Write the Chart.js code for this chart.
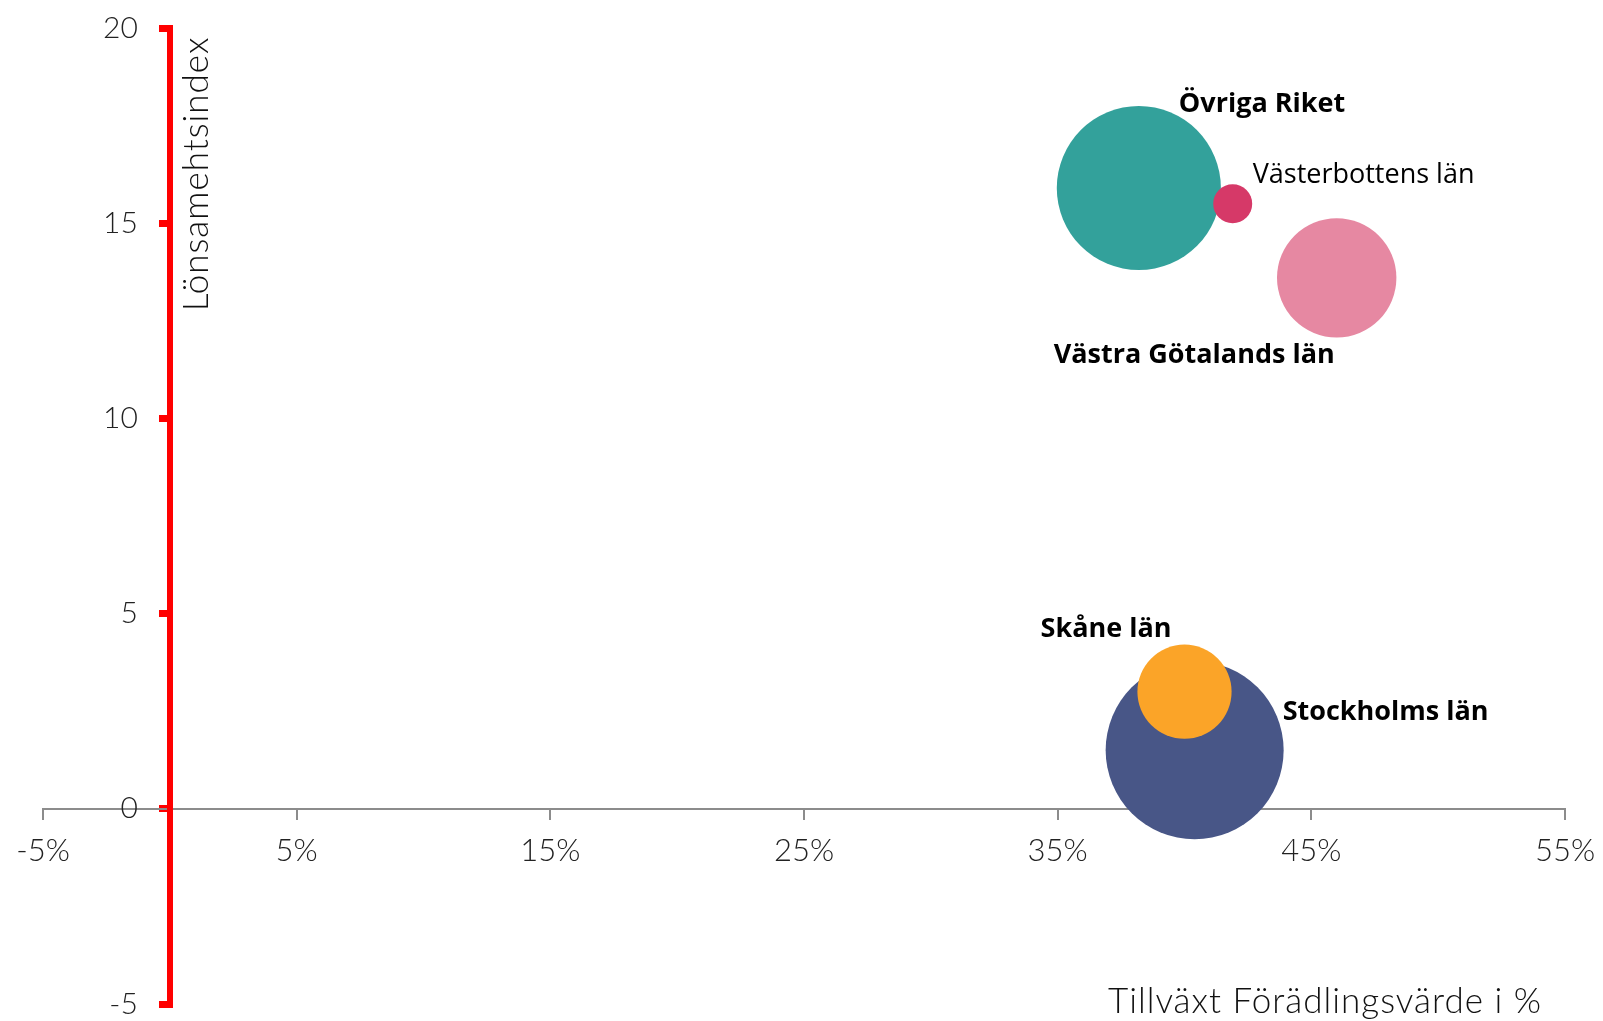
<!DOCTYPE html>
<html lang="sv">
<head>
<meta charset="utf-8">
<title>Lönsamhetsindex och tillväxt i förädlingsvärde</title>
<script src="https://cdn.jsdelivr.net/npm/chart.js@4.4.1/dist/chart.umd.min.js"></script>
<style>
  html, body { margin: 0; padding: 0; background: #fff; }
</style>
</head>
<body>
<canvas id="myChart" width="1603" height="1021"></canvas>
<script>
// Data
var lan = ['Övriga Riket', 'Västerbottens län', 'Västra Götalands län', 'Stockholms län', 'Skåne län'];
var tillvaxt = [38.2, 41.9, 46.0, 40.4, 40.0];      // Tillväxt förädlingsvärde i %
var lonsamhet = [15.9, 15.5, 13.6, 1.5, 3.0];       // Lönsamhetsindex
var storlek = [85, 4.8, 45, 100, 28];               // bubbelstorlek (relativ yta)
var xTicks = [-5, 5, 15, 25, 35, 45, 55];
var yTicks = [-5, 0, 5, 10, 15, 20];

var farger = ['#33a19b', '#d63968', '#e688a2', '#485687', '#fba428'];
var maxRadie = 89;

// Placering av etiketterna relativt bubblan
var etikettStil = [
    { dx: 40, dy: -84, align: 'left', bold: true },
    { dx: 20, dy: -28, align: 'left', bold: false },
    { dx: -2, dy: 77, align: 'right', bold: true },
    { dx: 88, dy: -38, align: 'left', bold: true },
    { dx: -13, dy: -62, align: 'right', bold: true }
];

var tunnFont = 'Lato';

var punkter = lan.map(function(namn, i) {
    return { x: tillvaxt[i], y: lonsamhet[i], r: maxRadie * Math.sqrt(storlek[i] / 100) };
});

var etiketter = {
    id: 'etiketter',
    afterDatasetsDraw: function(chart) {
        var ctx = chart.ctx;
        var meta = chart.getDatasetMeta(0);
        ctx.save();
        ctx.fillStyle = '#000';
        ctx.textBaseline = 'middle';
        meta.data.forEach(function(el, i) {
            var s = etikettStil[i];
            ctx.font = (s.bold ? 'bold ' : '') + '27px "Open Sans", sans-serif';
            ctx.textAlign = s.align;
            ctx.fillText(lan[i], el.x + s.dx, el.y + s.dy);
        });
        ctx.restore();
    }
};

// y-axelns siffror står en bit till vänster om den röda linjen
var yEtiketter = {
    id: 'yEtiketter',
    afterDraw: function(chart) {
        var ctx = chart.ctx;
        var y = chart.scales.y;
        var x0 = chart.scales.x.getPixelForValue(0);
        ctx.save();
        ctx.fillStyle = '#222';
        ctx.font = '300 30px ' + tunnFont + ', sans-serif';
        ctx.textAlign = 'right';
        ctx.textBaseline = 'middle';
        y.ticks.forEach(function(t) {
            ctx.fillText(String(t.value), x0 - 32, y.getPixelForValue(t.value));
        });
        ctx.restore();
    }
};

// Axeltitlar (flyttade som i originalet)
var axeltitlar = {
    id: 'axeltitlar',
    afterDraw: function(chart) {
        var ctx = chart.ctx;
        ctx.save();
        ctx.fillStyle = '#111';
        ctx.font = '300 35px ' + tunnFont + ', sans-serif';
        ctx.letterSpacing = '1px';
        ctx.textBaseline = 'middle';
        ctx.textAlign = 'right';
        ctx.fillText('Tillväxt Förädlingsvärde i %', 1542, 1002);
        ctx.translate(197, 174);
        ctx.rotate(-Math.PI / 2);
        ctx.textAlign = 'center';
        ctx.fillText('Lönsamehtsindex', 0, 0);
        ctx.restore();
    }
};

var ctx = document.getElementById('myChart').getContext('2d');
var myChart = new Chart(ctx, {
    type: 'bubble',
    data: {
        datasets: [{
            label: 'Län',
            data: punkter,
            backgroundColor: farger,
            borderWidth: 0
        }]
    },
    options: {
        responsive: false,
        animation: false,
        events: [],
        layout: { autoPadding: false, padding: { left: 43, right: 38, top: 28, bottom: 17 } },
        plugins: {
            legend: { display: false },
            tooltip: { enabled: false }
        },
        scales: {
            x: {
                type: 'linear',
                min: -5,
                max: 55,
                position: { y: 0 },
                afterBuildTicks: function(scale) {
                    scale.ticks = xTicks.map(function(v) { return { value: v }; });
                },
                afterFit: function(scale) {
                    // axeln ligger inne i diagrammet och ska inte ta plats
                    scale.height = 0;
                    scale.paddingLeft = 0;
                    scale.paddingRight = 0;
                },
                grid: { drawOnChartArea: false, tickLength: 10, color: '#8c8c8c', lineWidth: 2 },
                border: { color: '#8c8c8c', width: 2 },
                ticks: {
                    autoSkip: false,
                    maxRotation: 0,
                    padding: 14,
                    color: '#222',
                    font: { family: tunnFont, size: 31, weight: 300 },
                    callback: function(v) { return v + '%'; }
                }
            },
            y: {
                type: 'linear',
                min: -5,
                max: 20,
                position: { x: 0 },
                afterBuildTicks: function(scale) {
                    scale.ticks = yTicks.map(function(v) { return { value: v }; });
                },
                afterFit: function(scale) {
                    scale.width = 0;
                    scale.paddingTop = 0;
                    scale.paddingBottom = 0;
                },
                grid: { drawOnChartArea: false, tickLength: 8, color: '#ff0000', lineWidth: 7 },
                border: { color: '#ff0000', width: 6 },
                ticks: { display: false }
            }
        }
    },
    plugins: [etiketter, yEtiketter, axeltitlar]
});
</script>
</body>
</html>
